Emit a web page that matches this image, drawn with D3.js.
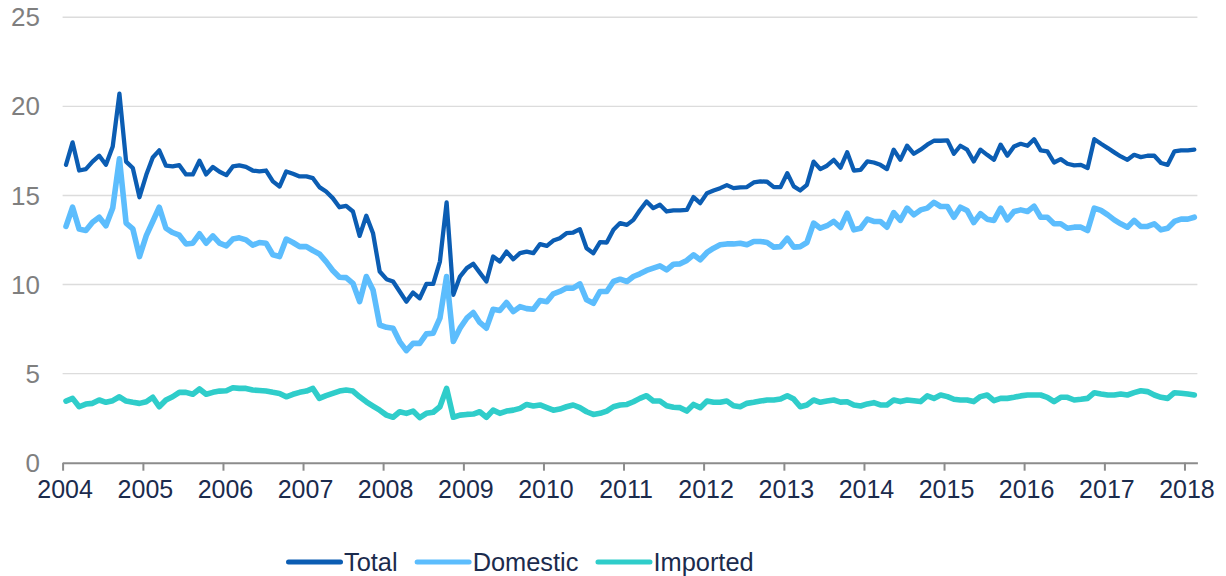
<!DOCTYPE html>
<html>
<head>
<meta charset="utf-8">
<script src="https://cdn.jsdelivr.net/npm/d3@7"></script>
<style>
  html, body { margin: 0; padding: 0; background: #ffffff; }
  svg { display: block; font-family: "Liberation Sans", Arial, sans-serif; }
</style>
</head>
<body>
<svg id="chart" width="1226" height="576"></svg>
<script>
// ---- data (monthly, Jan 2004 – Feb 2018) ----
const startMonth = new Date(2004, 0, 1);
const endMonth = new Date(2018, 2, 1); // exclusive
const seriesNames = ["Total", "Domestic", "Imported"];
const yTicks = [0, 5, 10, 15, 20, 25];
const xTickYears = [2004,2005,2006,2007,2008,2009,2010,2011,2012,2013,2014,2015,2016,2017,2018];

const total = [
16.72,17.98,16.4,16.48,16.9,17.23,16.72,17.75,20.71,16.9,16.54,14.9,
16.16,17.13,17.53,16.67,16.63,16.7,16.18,16.18,16.95,16.18,16.6,16.33,
16.14,16.63,16.69,16.6,16.4,16.35,16.4,15.79,15.5,16.35,16.22,16.07,
16.07,15.97,15.47,15.22,14.85,14.34,14.42,14.1,12.73,13.86,12.88,10.73,
10.3,10.17,9.61,9.04,9.55,9.23,10.04,10.04,11.29,14.61,9.42,10.45,
10.92,11.16,10.67,10.17,11.57,11.29,11.85,11.42,11.76,11.85,11.76,12.27,
12.17,12.47,12.6,12.88,12.92,13.11,12.04,11.76,12.38,12.36,13.07,13.45,
13.35,13.63,14.17,14.66,14.29,14.48,14.1,14.16,14.16,14.19,14.91,14.57,
15.13,15.28,15.41,15.58,15.41,15.45,15.47,15.73,15.79,15.77,15.47,15.47,
16.25,15.51,15.28,15.6,16.9,16.48,16.67,17.0,16.56,17.42,16.4,16.44,
16.91,16.85,16.72,16.48,17.57,17.0,17.79,17.34,17.57,17.85,18.07,18.07,
18.09,17.34,17.79,17.57,16.91,17.57,17.28,17.0,17.85,17.23,17.75,17.9,
17.79,18.16,17.53,17.47,16.85,17.04,16.78,16.69,16.72,16.54,18.16,17.9,
17.66,17.42,17.19,17.0,17.28,17.15,17.23,17.23,16.82,16.72,17.47,17.53,
17.53,17.57
];
const domestic = [
13.26,14.34,13.11,13.03,13.5,13.78,13.3,14.29,17.06,13.45,13.13,11.57,
12.75,13.54,14.34,13.16,12.92,12.77,12.28,12.32,12.85,12.32,12.73,12.32,
12.17,12.55,12.62,12.51,12.21,12.36,12.32,11.67,11.57,12.55,12.36,12.13,
12.13,11.91,11.72,11.29,10.79,10.41,10.39,10.07,9.04,10.45,9.7,7.73,
7.6,7.55,6.8,6.29,6.7,6.7,7.23,7.27,8.11,10.45,6.8,7.55,
8.11,8.43,7.87,7.55,8.61,8.54,8.99,8.48,8.76,8.65,8.61,9.1,
9.04,9.48,9.61,9.8,9.8,10.04,9.14,8.95,9.61,9.61,10.17,10.3,
10.17,10.45,10.6,10.79,10.92,11.05,10.82,11.14,11.16,11.35,11.67,11.39,
11.8,12.04,12.23,12.28,12.28,12.32,12.23,12.42,12.42,12.36,12.1,12.13,
12.6,12.1,12.13,12.36,13.45,13.16,13.3,13.54,13.2,14.0,13.07,13.16,
13.67,13.54,13.54,13.22,14.04,13.6,14.29,13.91,14.19,14.29,14.61,14.38,
14.38,13.78,14.34,14.16,13.48,13.97,13.67,13.6,14.29,13.63,14.1,14.19,
14.1,14.4,13.78,13.78,13.41,13.41,13.16,13.22,13.22,13.03,14.29,14.16,
13.91,13.63,13.41,13.22,13.6,13.26,13.26,13.41,13.07,13.16,13.54,13.67,
13.67,13.78
];
const imported = [
3.46,3.61,3.14,3.29,3.33,3.52,3.39,3.48,3.7,3.46,3.39,3.33,
3.42,3.67,3.14,3.52,3.7,3.95,3.95,3.84,4.14,3.84,3.95,4.02,
4.04,4.21,4.17,4.17,4.08,4.05,4.02,3.95,3.89,3.7,3.84,3.95,
4.02,4.17,3.61,3.76,3.89,4.02,4.08,4.02,3.7,3.42,3.18,2.95,
2.67,2.55,2.86,2.77,2.9,2.53,2.77,2.83,3.14,4.17,2.55,2.67,
2.71,2.73,2.86,2.55,2.95,2.77,2.9,2.95,3.05,3.27,3.18,3.24,
3.09,2.95,3.01,3.14,3.24,3.09,2.86,2.71,2.77,2.9,3.14,3.24,
3.27,3.42,3.61,3.76,3.46,3.46,3.2,3.11,3.09,2.9,3.27,3.09,
3.46,3.39,3.39,3.46,3.2,3.14,3.33,3.39,3.46,3.52,3.52,3.57,
3.76,3.57,3.14,3.24,3.52,3.39,3.46,3.52,3.4,3.42,3.24,3.18,
3.3,3.37,3.24,3.24,3.52,3.43,3.52,3.48,3.43,3.75,3.61,3.8,
3.71,3.56,3.52,3.52,3.43,3.71,3.8,3.48,3.61,3.61,3.67,3.75,
3.8,3.8,3.8,3.67,3.43,3.67,3.67,3.52,3.56,3.61,3.93,3.86,
3.8,3.8,3.86,3.8,3.93,4.04,3.99,3.8,3.67,3.61,3.93,3.9,
3.86,3.8
];
const seriesValues = [total, domestic, imported];

// ---- styling ----
const colors = ["#0b5db3", "#5cbdfd", "#2fcdca"];
const widths = [4.3, 5.6, 5.6];
const W = 1226, H = 576;

const svg = d3.select("#chart");
svg.append("rect").attr("width", W).attr("height", H).attr("fill", "#ffffff");

const months = d3.timeMonths(startMonth, endMonth);
const midMonth = m => new Date((m.getTime() + d3.timeMonth.offset(m, 1).getTime()) / 2);

const x = d3.scaleTime().domain([startMonth, endMonth]).range([62.6, 1197.4]);
const y = d3.scaleLinear().domain([0, 25]).range([462.7, 17.3]);

// gridlines
svg.append("g").selectAll("line").data(yTicks.filter(t => t > 0)).join("line")
  .attr("x1", x.range()[0]).attr("x2", x.range()[1])
  .attr("y1", d => y(d)).attr("y2", d => y(d))
  .attr("stroke", "#dcdcdc").attr("stroke-width", 1.4);

// y labels
svg.append("g").selectAll("text").data(yTicks).join("text")
  .attr("x", 40).attr("y", d => y(d)).attr("dy", "0.35em")
  .attr("text-anchor", "end").attr("fill", "#7f7f7f")
  .attr("font-size", 26).text(d => d);

// x axis
const xAxis = d3.axisBottom(x)
  .tickValues(xTickYears.map(yr => new Date(yr, 0, 1)))
  .tickFormat(d3.timeFormat("%Y"))
  .tickSize(8).tickSizeOuter(0).tickPadding(10);
const gx = svg.append("g").attr("transform", `translate(0,${y(0)})`).call(xAxis);
gx.select(".domain").attr("stroke", "#8c8c8c").attr("stroke-width", 2);
gx.selectAll(".tick line").attr("stroke", "#8c8c8c").attr("stroke-width", 2);
gx.selectAll(".tick text").attr("fill", "#1b2b4d").attr("font-size", 25)
  .attr("font-family", "Liberation Sans, Arial, sans-serif").attr("dx", 2);

// lines
const line = d3.line().x((d, i) => x(midMonth(months[i]))).y(d => y(d));
svg.append("g").selectAll("path").data(seriesValues).join("path")
  .attr("d", d => line(d))
  .attr("fill", "none")
  .attr("stroke", (d, i) => colors[i])
  .attr("stroke-width", (d, i) => widths[i])
  .attr("stroke-linejoin", "round")
  .attr("stroke-linecap", "round");

// legend
const lg = svg.append("g");
let cx = 288.5;
const legendY = 562;
seriesNames.forEach((name, i) => {
  lg.append("line").attr("x1", cx).attr("x2", cx + 52).attr("y1", legendY).attr("y2", legendY)
    .attr("stroke", colors[i]).attr("stroke-width", 5).attr("stroke-linecap", "round");
  const t = lg.append("text").attr("x", cx + 55.5).attr("y", legendY + 9)
    .attr("fill", "#1b2b4d").attr("font-size", 25.4).text(name);
  cx += 55.5 + t.node().getComputedTextLength() + 19.5;
});
</script>
</body>
</html>
